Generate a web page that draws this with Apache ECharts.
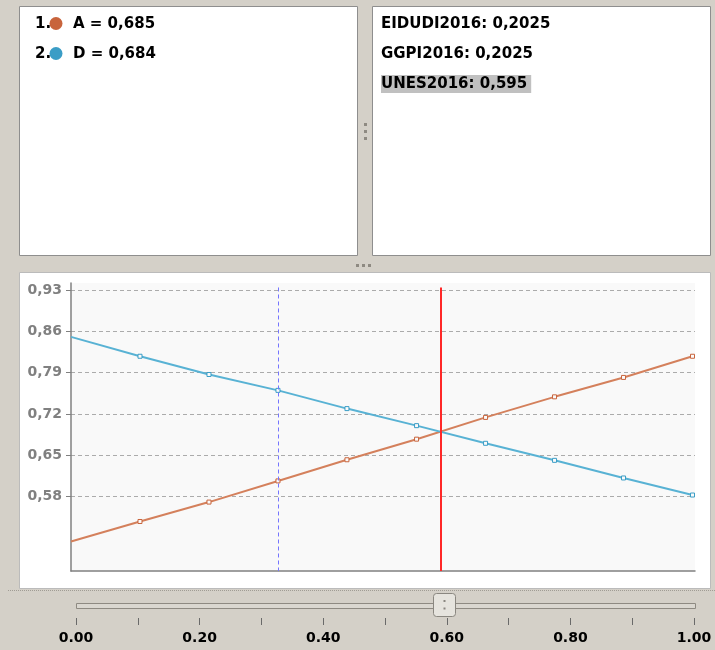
<!DOCTYPE html>
<html><head><meta charset="utf-8">
<script src="https://cdn.jsdelivr.net/npm/echarts@6/dist/echarts.min.js"></script>
<style>html,body{margin:0;padding:0;background:#D4D0C8;}#c{width:715px;height:650px;}</style>
</head><body><div id="c"></div>
<script>
// ---- data ----
const xValues = [0, 0.111, 0.222, 0.333, 0.444, 0.556, 0.667, 0.778, 0.889, 1.0];
const seriesA = [0.503, 0.537, 0.570, 0.606, 0.642, 0.677, 0.714, 0.749, 0.782, 0.818];
const seriesD = [0.851, 0.818, 0.787, 0.760, 0.729, 0.700, 0.670, 0.641, 0.611, 0.582];
const yTicks = [0.58, 0.65, 0.72, 0.79, 0.86, 0.93];
const rankLabels = ['1.', '2.'];
const rankNames = ['A', 'D'];
const rankValues = [0.685, 0.684];
const weightNames = ['EIDUDI2016', 'GGPI2016', 'UNES2016'];
const weightValues = [0.2025, 0.2025, 0.595];
const selectedIndex = 2;
const guideX = 0.333;

// ---- styles ----
const FONT = '"DejaVu Sans", Verdana, sans-serif';
const colA = '#C8643C', colD = '#3A9DC6';
const lineA = '#D4805C', lineD = '#58B2D4';
const yMin = 0.4528, yMax = 0.9426, vTop = 0.935;
const fmt = v => String(v).replace('.', ',');

const chart = echarts.init(document.getElementById('c'), null, {renderer: 'canvas'});

function pts(vals) {
  return xValues.map((x, i) => i === 0 ? {value: [x, vals[i]], symbol: 'none'} : [x, vals[i]]);
}

const graphics = [
  {type: 'rect', z: -10, shape: {x: 19.5, y: 6.5, width: 338, height: 249}, style: {fill: '#fff', stroke: '#8E8E8E', lineWidth: 1}},
  {type: 'rect', z: -10, shape: {x: 372.5, y: 6.5, width: 338, height: 249}, style: {fill: '#fff', stroke: '#8E8E8E', lineWidth: 1}},
  {type: 'rect', z: -10, shape: {x: 19.5, y: 272.5, width: 691, height: 316}, style: {fill: '#fff', stroke: '#BBBBBB', lineWidth: 1}},
  {type: 'line', shape: {x1: 8, y1: 590.5, x2: 715, y2: 590.5}, style: {stroke: '#A09C94', lineDash: [1, 1], lineWidth: 1}},
];
[123, 130, 137].forEach(y => graphics.push({type: 'rect', shape: {x: 364, y: y, width: 3, height: 3}, style: {fill: '#8E8A82'}}));
[356, 362, 368].forEach(x => graphics.push({type: 'rect', shape: {x: x, y: 264, width: 3, height: 3}, style: {fill: '#8E8A82'}}));

rankLabels.forEach((lab, i) => {
  const y = 24 + 30 * i;
  graphics.push({type: 'text', z: 10, style: {x: 35, y: y, text: lab, font: 'bold 15px ' + FONT, fill: '#000', verticalAlign: 'middle'}});
  graphics.push({type: 'circle', z: 10, shape: {cx: 56, cy: y - 0.5, r: 6.5}, style: {fill: i === 0 ? colA : colD}});
  graphics.push({type: 'text', z: 10, style: {x: 73, y: y, text: rankNames[i] + ' = ' + fmt(rankValues[i]), font: 'bold 15px ' + FONT, fill: '#000', verticalAlign: 'middle'}});
});
weightNames.forEach((n, i) => {
  const y = 24 + 30 * i;
  const st = {x: 381, y: y, text: n + ': ' + fmt(weightValues[i]), font: 'bold 15px ' + FONT, fill: '#000', verticalAlign: 'middle'};
  if (i === selectedIndex) { st.backgroundColor = '#C0C0C0'; st.padding = [2, 4, 1, 0]; }
  graphics.push({type: 'text', z: 10, style: st});
});

const option = {
  animation: false,
  backgroundColor: '#D4D0C8',
  grid: [
    {left: 71, right: 20, top: 283, bottom: 79, show: true, backgroundColor: '#F9F9F9', borderWidth: 0},
    {left: 76, right: 21, top: 617, height: 1, show: false}
  ],
  xAxis: [
    {type: 'value', gridIndex: 0, min: 0, max: 1.004,
     axisLine: {show: true, lineStyle: {color: '#808080', width: 1.5}},
     axisTick: {show: false}, axisLabel: {show: false}, splitLine: {show: false}},
    {type: 'value', gridIndex: 1, min: 0, max: 1, interval: 0.1,
     axisLine: {show: false},
     axisTick: {show: true, length: 7, lineStyle: {color: '#6A6A6A', width: 1}},
     axisLabel: {show: true, margin: 13, color: '#000', fontFamily: FONT, fontWeight: 'bold', fontSize: 14,
       formatter: v => (Math.round(v * 10) % 2 === 0 ? v.toFixed(2) : '')},
     splitLine: {show: false}}
  ],
  yAxis: [
    {type: 'value', gridIndex: 0, min: yMin, max: yMax,
     axisLine: {show: true, lineStyle: {color: '#808080', width: 1.5}},
     axisTick: {show: true, customValues: yTicks, length: 5, lineStyle: {color: '#808080'}},
     axisLabel: {customValues: yTicks, formatter: v => v.toFixed(2).replace('.', ','), color: '#808080',
       fontFamily: FONT, fontWeight: 'bold', fontSize: 14, margin: 9},
     splitLine: {show: true, lineStyle: {color: '#ABABAB', type: [4, 3], width: 1}}},
    {type: 'value', gridIndex: 1, show: false}
  ],
  series: [
    {type: 'line', name: 'A', xAxisIndex: 0, yAxisIndex: 0, data: pts(seriesA),
     symbol: 'rect', symbolSize: 4, lineStyle: {color: lineA, width: 2},
     itemStyle: {color: '#FAFAFA', borderColor: colA, borderWidth: 1}, emphasis: {disabled: true},
     markLine: {silent: true, symbol: ['none', 'none'], label: {show: false},
       data: [
         [{coord: [guideX, vTop], lineStyle: {color: '#7575FF', type: [4, 3], width: 1}}, {coord: [guideX, yMin]}],
         [{coord: [weightValues[selectedIndex], vTop], lineStyle: {color: '#FF2828', type: 'solid', width: 2}}, {coord: [weightValues[selectedIndex], yMin]}]
       ]}},
    {type: 'line', name: 'D', xAxisIndex: 0, yAxisIndex: 0, data: pts(seriesD),
     symbol: 'rect', symbolSize: 4, lineStyle: {color: lineD, width: 2},
     itemStyle: {color: '#FAFAFA', borderColor: colD, borderWidth: 1}, emphasis: {disabled: true}}
  ],
  graphic: graphics
};
chart.setOption(option);

// slider thumb positioned at selected weight via slider axis scale
const tx = chart.convertToPixel({xAxisIndex: 1}, weightValues[selectedIndex]);
const sliderEls = [
  {type: 'rect', shape: {x: 76.5, y: 603.5, width: 619, height: 5}, style: {fill: '#DAD7D0', stroke: '#8E8A82', lineWidth: 1}},
  {type: 'rect', z: 5, shape: {x: Math.round(tx) - 10.5, y: 593.5, width: 22, height: 23, r: 3}, style: {fill: '#E6E4DE', stroke: '#8A8780', lineWidth: 1}},
  {type: 'rect', z: 6, shape: {x: Math.round(tx) - 0.5, y: 600, width: 2, height: 2}, style: {fill: '#8A8780'}},
  {type: 'rect', z: 6, shape: {x: Math.round(tx) - 0.5, y: 607.5, width: 2, height: 2}, style: {fill: '#8A8780'}}
];
chart.setOption({graphic: graphics.concat(sliderEls)});
</script>
</body></html>
